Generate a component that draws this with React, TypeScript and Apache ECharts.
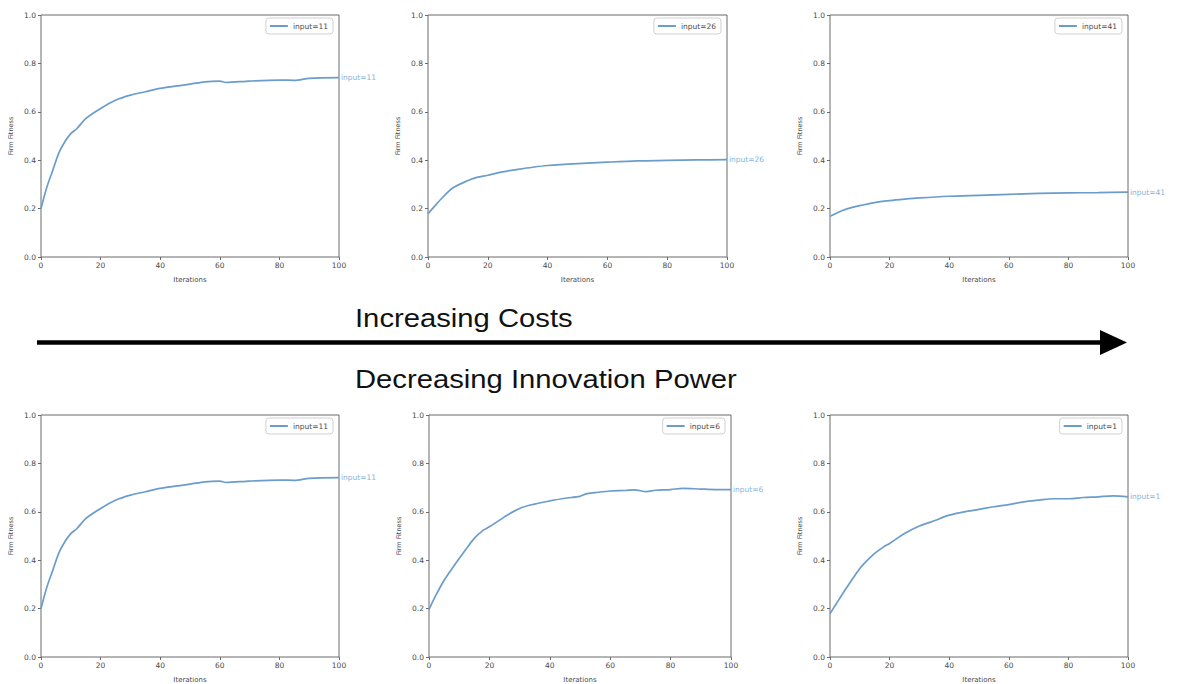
import React, { useEffect, useRef } from "react";
import * as echarts from "echarts";

// ---- data ----
const xA = [0, 2, 4, 6, 8, 10, 12, 15, 20, 25, 30, 35, 40, 45, 50, 55, 60, 62, 70, 80, 85, 90, 100];
const yInput11 = [0.2, 0.29, 0.36, 0.43, 0.476, 0.51, 0.53, 0.572, 0.614, 0.648, 0.669, 0.683, 0.697, 0.706, 0.714, 0.724, 0.727, 0.721, 0.727, 0.731, 0.73, 0.738, 0.741];

const xB = [0, 2, 5, 8, 10, 15, 20, 25, 30, 35, 40, 50, 60, 70, 80, 90, 100];
const yInput26 = [0.179, 0.207, 0.248, 0.283, 0.297, 0.324, 0.338, 0.352, 0.362, 0.371, 0.378, 0.386, 0.392, 0.397, 0.399, 0.401, 0.402];

const xC = [0, 3, 5, 10, 15, 20, 25, 30, 40, 50, 60, 70, 80, 90, 100];
const yInput41 = [0.168, 0.186, 0.196, 0.212, 0.225, 0.233, 0.239, 0.244, 0.251, 0.255, 0.259, 0.263, 0.265, 0.266, 0.268];

const xD = [0, 2, 5, 8, 10, 12, 15, 18, 20, 25, 30, 35, 40, 45, 50, 52, 55, 60, 65, 68, 72, 75, 80, 84, 90, 95, 100];
const yInput6 = [0.196, 0.248, 0.317, 0.372, 0.407, 0.441, 0.49, 0.524, 0.538, 0.579, 0.614, 0.632, 0.645, 0.656, 0.664, 0.674, 0.679, 0.686, 0.688, 0.691, 0.683, 0.689, 0.692, 0.697, 0.694, 0.692, 0.692];

const xE = [0, 2, 5, 8, 10, 12, 15, 18, 20, 25, 30, 35, 40, 45, 50, 55, 60, 65, 70, 75, 80, 85, 90, 95, 100];
const yInput1 = [0.179, 0.218, 0.276, 0.331, 0.366, 0.393, 0.428, 0.455, 0.469, 0.51, 0.541, 0.563, 0.586, 0.6, 0.61, 0.621, 0.63, 0.641, 0.648, 0.654, 0.654, 0.659, 0.662, 0.666, 0.662];

const xTicks = [0, 20, 40, 60, 80, 100];
const yTicks = [0, 0.2, 0.4, 0.6, 0.8, 1.0];

const panelNames = ["input=11", "input=26", "input=41", "input=11", "input=6", "input=1"];
const panelX = [xA, xB, xC, xA, xD, xE];
const panelY = [yInput11, yInput26, yInput41, yInput11, yInput6, yInput1];

const topText = "Increasing Costs";
const bottomText = "Decreasing Innovation Power";

// ---- layout ----
const W = 1177;
const H = 684;
const rects = [
  { left: 41, top: 15, width: 298, height: 242 },
  { left: 428, top: 15, width: 299, height: 242 },
  { left: 830, top: 15, width: 298, height: 242 },
  { left: 41, top: 415, width: 298, height: 242 },
  { left: 429, top: 415, width: 302, height: 242 },
  { left: 830, top: 415, width: 298, height: 242 },
];

const LINE = "#6a9ccc";
const LABEL = "#86b2dd";
const FRAME = "#6b6b6b";
const TXT = "#4a4a4a";
const FONT = "DejaVu Sans";

export default function App() {
  const ref = useRef<HTMLDivElement>(null);
  useEffect(() => {
    if (!ref.current) return;
    const chart = echarts.init(ref.current, undefined, { renderer: "svg" });
    const grid = rects.map((r) => ({
      ...r,
      show: true,
      borderColor: FRAME,
      borderWidth: 1,
      backgroundColor: "#fff",
      containLabel: false,
    }));
    const xAxis = rects.map((_, i) => ({
      type: "value",
      gridIndex: i,
      min: xTicks[0],
      max: xTicks[xTicks.length - 1],
      interval: 20,
      name: "Iterations",
      nameLocation: "middle",
      nameGap: 19,
      nameTextStyle: { fontSize: 7, color: TXT, fontFamily: FONT },
      axisLine: { show: false },
      axisTick: { show: true, length: 3, lineStyle: { color: FRAME } },
      axisLabel: { fontSize: 7.5, color: TXT, fontFamily: FONT, margin: 4 },
      splitLine: { show: false },
    }));
    const yAxis = rects.map((_, i) => ({
      type: "value",
      gridIndex: i,
      min: yTicks[0],
      max: yTicks[yTicks.length - 1],
      interval: 0.2,
      name: "Firm Fitness",
      nameLocation: "middle",
      nameGap: 27,
      nameTextStyle: { fontSize: 6.5, color: TXT, fontFamily: FONT },
      axisLine: { show: false },
      axisTick: { show: true, length: 3, lineStyle: { color: FRAME } },
      axisLabel: {
        fontSize: 7.5,
        color: TXT,
        fontFamily: FONT,
        margin: 5,
        formatter: (v: number) => v.toFixed(1),
      },
      splitLine: { show: false },
    }));
    const series = rects.map((_, i) => ({
      type: "line",
      name: panelNames[i],
      xAxisIndex: i,
      yAxisIndex: i,
      data: panelX[i].map((x, k) => [x, panelY[i][k]]),
      symbol: "none",
      smooth: 0.3,
      lineStyle: { color: LINE, width: 1.7 },
      itemStyle: { color: LINE },
      endLabel: {
        show: true,
        formatter: panelNames[i],
        color: LABEL,
        fontSize: 7.5,
        fontFamily: FONT,
        distance: 2,
      },
    }));
    const legend = rects.map((r, i) => ({
      data: [{ name: panelNames[i], icon: "rect" }],
      right: W - (r.left + r.width - 6),
      top: r.top + 3,
      orient: "horizontal",
      borderColor: "#d0d0d0",
      borderWidth: 1,
      borderRadius: 3,
      padding: [4, 5, 4, 4],
      itemWidth: 18,
      itemHeight: 2,
      itemGap: 4,
      selectedMode: false,
      itemStyle: { color: LINE },
      textStyle: { fontSize: 7.5, color: TXT, fontFamily: FONT },
    }));
    chart.setOption({
      animation: false,
      backgroundColor: "#fff",
      grid,
      xAxis,
      yAxis,
      series,
      legend,
      graphic: [
        {
          type: "text",
          left: 355,
          top: 306,
          scaleX: 1.17,
          style: { text: topText, fontSize: 25, fill: "#111", fontFamily: "Liberation Sans" },
        },
        {
          type: "text",
          left: 355,
          top: 367,
          scaleX: 1.17,
          style: { text: bottomText, fontSize: 25, fill: "#111", fontFamily: "Liberation Sans" },
        },
        {
          type: "line",
          shape: { x1: 37, y1: 342.5, x2: 1104, y2: 342.5 },
          style: { stroke: "#000", lineWidth: 4.5 },
        },
        {
          type: "polygon",
          shape: { points: [[1100, 330], [1127, 342.5], [1100, 355]] },
          style: { fill: "#000" },
        },
      ],
    });
    return () => chart.dispose();
  }, []);
  return (
    <div
      ref={ref}
      style={{ position: "fixed", left: 0, top: 0, width: W, height: H, background: "#fff" }}
    />
  );
}
